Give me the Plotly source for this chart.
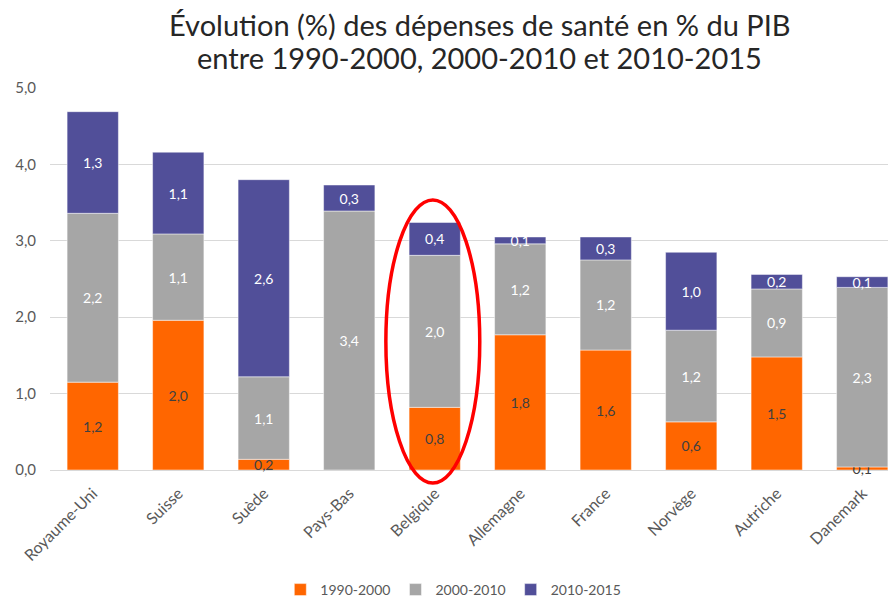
import plotly.graph_objects as go

pays = ["Royaume-Uni", "Suisse", "Suède", "Pays-Bas", "Belgique",
        "Allemagne", "France", "Norvège", "Autriche", "Danemark"]
p1990_2000 = [1.15, 1.96, 0.14, -0.03, 0.82, 1.77, 1.57, 0.63, 1.48, 0.04]
p2000_2010 = [2.21, 1.13, 1.08, 3.39, 1.99, 1.19, 1.18, 1.20, 0.89, 2.35]
p2010_2015 = [1.33, 1.07, 2.58, 0.34, 0.43, 0.09, 0.30, 1.02, 0.19, 0.14]
lab1990_2000 = ["1,2", "2,0", "0,2", "", "0,8", "1,8", "1,6", "0,6", "1,5", "0,1"]
lab2000_2010 = ["2,2", "1,1", "1,1", "3,4", "2,0", "1,2", "1,2", "1,2", "0,9", "2,3"]
lab2010_2015 = ["1,3", "1,1", "2,6", "0,3", "0,4", "0,1", "0,3", "1,0", "0,2", "0,1"]
y_ticks = [0, 1, 2, 3, 4, 5]
title_lines = ["Évolution (%) des dépenses de santé en % du PIB",
               "entre 1990-2000, 2000-2010 et 2010-2015"]

FONT = "Lato"
fig = go.Figure()
series = [
    ("1990-2000", p1990_2000, lab1990_2000, "#ff6600", "#404040"),
    ("2000-2010", p2000_2010, lab2000_2010, "#a6a6a6", "#ffffff"),
    ("2010-2015", p2010_2015, lab2010_2015, "#514f99", "#ffffff"),
]
for name, vals, labs, col, tcol in series:
    fig.add_trace(go.Bar(
        x=pays, y=vals, name=name, text=labs,
        textposition="inside", insidetextanchor="middle",
        textfont=dict(family=FONT, size=14, color=tcol),
        marker=dict(color=col, line=dict(color="rgba(255,255,255,0.6)", width=0.8)),
        width=0.6, cliponaxis=False,
    ))

# red ellipse highlighting Belgique (paper coords so it is not clipped by the plot area)
fig.add_shape(type="circle", xref="paper", yref="paper",
              x0=0.397, x1=0.508, y0=-0.034, y1=0.707,
              line=dict(color="#ff0000", width=3.5), layer="above")

# title as two annotations (tighter line spacing)
for line, ypos in zip(title_lines, [1.1675, 1.081]):
    fig.add_annotation(text=line, xref="paper", yref="paper",
                       x=(472 - 42) / 846, y=ypos, xanchor="center", yanchor="middle",
                       showarrow=False, font=dict(family=FONT, size=29, color="#262626"))

# page body has an 8px offset: margins compensate
fig.update_layout(
    width=896, height=599,
    barmode="relative",
    separators=", ",
    plot_bgcolor="white", paper_bgcolor="white",
    margin=dict(l=42, r=8, t=80, b=137, autoexpand=False),
    uniformtext=dict(minsize=14, mode="show"),
    legend=dict(orientation="h", x=0.497, xanchor="center", xref="container",
                y=1 - 582 / 599, yanchor="middle", yref="container",
                font=dict(family=FONT, size=14, color="#595959"),
                itemwidth=30, traceorder="normal"),
    showlegend=True,
)
fig.update_xaxes(range=[-0.5, 9.395], tickangle=-45, automargin=False,
                 tickfont=dict(family=FONT, size=16, color="#595959"),
                 showgrid=False, showline=False, ticks="", ticklabelstandoff=10)
fig.update_yaxes(range=[0, 5], tickvals=y_ticks, tickformat=".1f", automargin=False,
                 tickfont=dict(family=FONT, size=15, color="#595959"),
                 showgrid=True, gridcolor="#d9d9d9", gridwidth=1,
                 zeroline=True, zerolinecolor="#d9d9d9", zerolinewidth=1,
                 showline=False, ticks="", ticklabelstandoff=13)

fig.write_html("out.html")
